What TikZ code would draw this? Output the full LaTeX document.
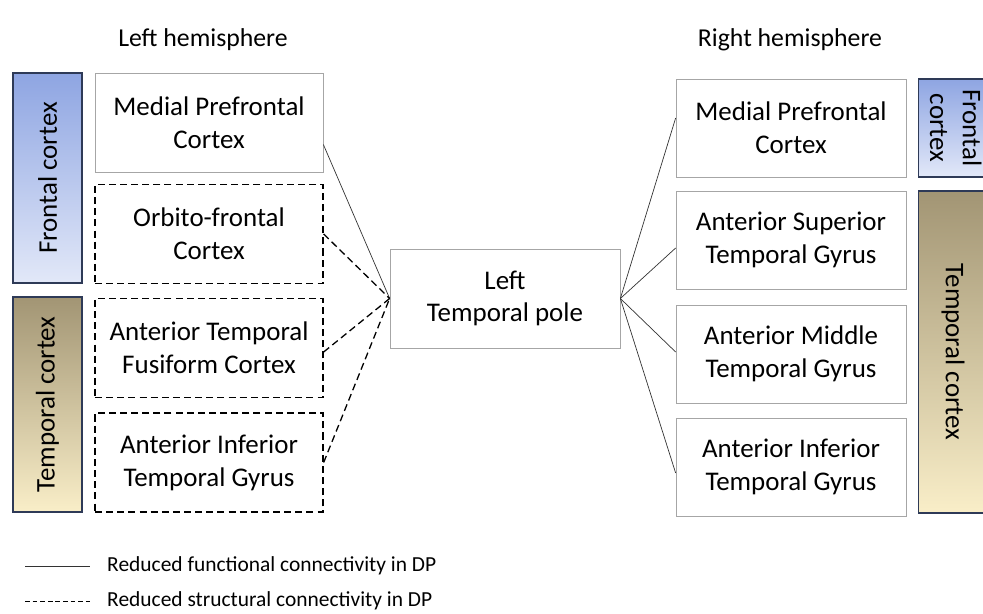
\documentclass[tikz,border=0pt]{standalone}
\usepackage{fontspec}
\setmainfont{Carlito}
\usepackage{tikz}
\usetikzlibrary{calc}
\usetikzlibrary{positioning}
\definecolor{barframe}{HTML}{2E3A57}
\definecolor{fronttop}{HTML}{8EA5E2}
\definecolor{frontbot}{HTML}{E2E8F8}
\definecolor{temptop}{HTML}{A29574}
\definecolor{tempbot}{HTML}{F9EEC8}
\tikzset{
  every node/.style={font=\fontsize{23}{28}\selectfont, align=center, inner sep=0},
  region/.style={minimum width=6.84cm, minimum height=2.97cm},
  funcbox/.style={region, draw=gray!70, line width=0.6pt},
  structbox/.style={region, draw=black, line width=1.1pt, dash pattern=on 6pt off 3.5pt},
  frontbar/.style={draw=barframe, line width=1.2pt, top color=fronttop, bottom color=frontbot, minimum width=2.07cm},
  tempbar/.style={draw=barframe, line width=1.2pt, top color=temptop, bottom color=tempbot, minimum width=2.07cm},
  func/.style={gray!40!black, line width=0.6pt},
  struct/.style={black, line width=1.1pt, dash pattern=on 6pt off 3.5pt},
  legend/.style={font=\fontsize{18.3}{22}\selectfont, anchor=west}
}

\begin{document}
\begin{tikzpicture}[x=0.03cm, y=-0.03cm]
\useasboundingbox (0,0) rectangle (983,613);
\node[font=\fontsize{22}{26}\selectfont] (lhemi) at (203,40) {Left hemisphere};
\node[font=\fontsize{22}{26}\selectfont] (rhemi) at (790,40) {Right hemisphere};

\node[frontbar, minimum height=6.3cm] (lfront) at (47.5,178) {\rotatebox{90}{Frontal cortex}};
\node[tempbar, minimum height=6.45cm] (ltemp) at (47.5,404.5) {\rotatebox{90}{Temporal cortex}};

\node[funcbox] (lmpfc) at (209,122.5) {Medial Prefrontal\\Cortex};
\node[structbox] (lofc) at (209,234) {Orbito-frontal\\Cortex};
\node[structbox] (latfc) at (209,348) {Anterior Temporal\\Fusiform Cortex};
\node[structbox] (laitg) at (209,462.5) {Anterior Inferior\\Temporal Gyrus};

\node[funcbox, minimum width=6.9cm] (tpole) at (505,298.5) {Left\\Temporal pole};

\node[funcbox, minimum width=6.9cm, minimum height=2.94cm] (rmpfc) at (791,128) {Medial Prefrontal\\Cortex};
\node[funcbox, minimum width=6.9cm, minimum height=2.94cm] (rastg) at (791,240) {Anterior Superior\\Temporal Gyrus};
\node[funcbox, minimum width=6.9cm, minimum height=2.94cm] (ramtg) at (791,354) {Anterior Middle\\Temporal Gyrus};
\node[funcbox, minimum width=6.9cm, minimum height=2.94cm] (raitg) at (791,467) {Anterior Inferior\\Temporal Gyrus};

\node[frontbar, minimum height=2.94cm] (rfront) at (953,128) {\rotatebox{-90}{\begin{tabular}{@{}c@{}}Frontal\\cortex\end{tabular}}};
\node[tempbar, minimum height=9.66cm] (rtemp) at (953,352) {\rotatebox{-90}{Temporal cortex}};

\draw[func] ($(lmpfc.east)+(0,22)$) -- (tpole.west);
\foreach \n/\d in {lofc/0,latfc/4,laitg/0}
  \draw[struct] ($(\n.east)+(0,\d)$) -- (tpole.west);
\foreach \n/\d in {rmpfc/-10,rastg/8,ramtg/-2,raitg/6}
  \draw[func] (tpole.east) -- ($(\n.west)+(0,\d)$);

\coordinate (funca) at (25,566);
\coordinate (funcb) at (90,566);
\coordinate (structa) at (25,601);
\coordinate (structb) at (90,601);
\draw[func] (funca) -- (funcb);
\draw[black, line width=0.7pt, dash pattern=on 4pt off 2.5pt] (structa) -- (structb);
\node[legend] (functext) at (107,566) {Reduced functional connectivity in DP};
\node[legend] (structtext) at (107,601) {Reduced structural connectivity in DP};
\end{tikzpicture}
\end{document}
